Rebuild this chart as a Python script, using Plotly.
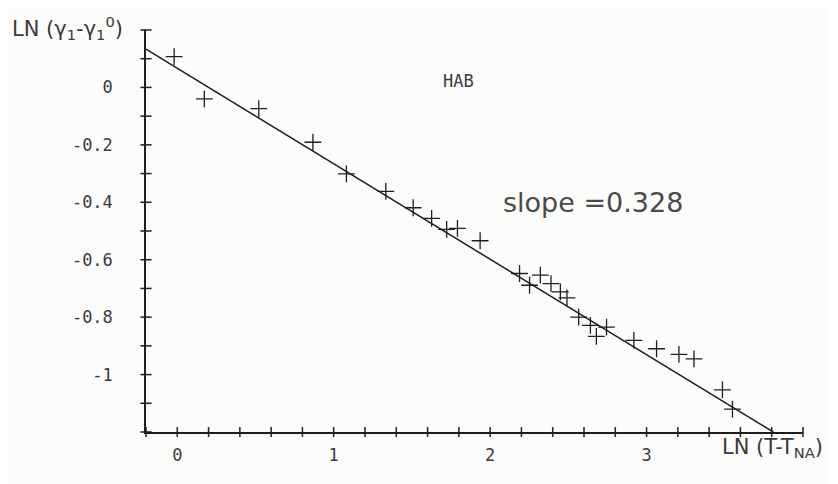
import plotly.graph_objects as go

# Data
ln_dT = [-0.02, 0.173, 0.521, 0.867, 1.081, 1.333, 1.508, 1.626, 1.722, 1.791,
         1.936, 2.188, 2.252, 2.321, 2.389, 2.449, 2.491, 2.566, 2.641, 2.679,
         2.744, 2.919, 3.064, 3.207, 3.303, 3.485, 3.549]
ln_dgamma = [0.107, -0.040, -0.074, -0.191, -0.301, -0.362, -0.419, -0.456, -0.494, -0.491,
             -0.534, -0.648, -0.689, -0.654, -0.683, -0.712, -0.733, -0.800, -0.829, -0.867,
             -0.835, -0.881, -0.910, -0.930, -0.945, -1.053, -1.120]

fit_x = [-0.2, 3.81]
fit_y = [0.133, -1.2]

x_ticks = [-0.2, 0.0, 0.2, 0.4, 0.6, 0.8, 1.0, 1.2, 1.4, 1.6, 1.8, 2.0, 2.2,
           2.4, 2.6, 2.8, 3.0, 3.2, 3.4, 3.6, 3.8, 4.0]
y_ticks = [0.2, 0.1, 0.0, -0.1, -0.2, -0.3, -0.4, -0.5, -0.6, -0.7, -0.8,
           -0.9, -1.0, -1.1, -1.2]
x_labels_vals = [0, 1, 2, 3]
x_labels_text = ["0", "1", "2", "3"]
y_labels_vals = [0, -0.2, -0.4, -0.6, -0.8, -1]
y_labels_text = ["0", "-0.2", "-0.4", "-0.6", "-0.8", "-1"]

X_MIN, X_MAX = -0.2, 4.0
Y_MIN, Y_MAX = -1.2, 0.2

ink = "#1e1e1e"
txt = "#3a3a3a"

fig = go.Figure()

# fitted line
fig.add_trace(go.Scatter(x=fit_x, y=fit_y, mode="lines",
                         line=dict(color=ink, width=1.5), hoverinfo="skip",
                         showlegend=False))
# data points
fig.add_trace(go.Scatter(x=ln_dT, y=ln_dgamma, mode="markers",
                         marker=dict(symbol="cross-thin", size=12,
                                     line=dict(color=ink, width=1.3)),
                         showlegend=False))
# crossing tick marks on the x axis
fig.add_trace(go.Scatter(x=x_ticks, y=[Y_MIN] * len(x_ticks), mode="markers",
                         marker=dict(symbol="line-ns", size=7,
                                     line=dict(color=ink, width=1.5)),
                         cliponaxis=False, hoverinfo="skip", showlegend=False))
# crossing tick marks on the y axis
fig.add_trace(go.Scatter(x=[X_MIN] * len(y_ticks), y=y_ticks, mode="markers",
                         marker=dict(symbol="line-ew", size=8,
                                     line=dict(color=ink, width=1.5)),
                         cliponaxis=False, hoverinfo="skip", showlegend=False))

tick_font = dict(family="DejaVu Sans Mono", size=17, color=txt)

fig.update_xaxes(range=[X_MIN, X_MAX], showgrid=False, zeroline=False,
                 showline=True, linecolor=ink, linewidth=1.5,
                 tickvals=x_labels_vals, ticktext=x_labels_text, ticks="",
                 tickfont=tick_font, ticklabelstandoff=7)
fig.update_yaxes(range=[Y_MIN, Y_MAX], showgrid=False, zeroline=False,
                 showline=True, linecolor=ink, linewidth=1.5,
                 tickvals=y_labels_vals, ticktext=y_labels_text, ticks="",
                 tickfont=tick_font, ticklabelstandoff=28)

fig.add_annotation(x=1.80, y=0.021, xref="x", yref="y", text="HAB",
                   showarrow=False, font=dict(family="DejaVu Sans Mono", size=17, color=txt))
fig.add_annotation(x=2.66, y=-0.402, xref="x", yref="y", text="slope =0.328",
                   showarrow=False, font=dict(family="DejaVu Sans", size=27, color="#4a4a4a"))
fig.add_annotation(x=-0.207, y=1.005, xref="paper", yref="paper", xanchor="left",
                   yanchor="middle",
                   text="LN (γ<sub>1</sub>-γ<sub>1</sub><sup>0</sup>)", showarrow=False,
                   font=dict(family="DejaVu Sans", size=21, color=txt))
fig.add_annotation(x=0.954, y=-0.04, xref="paper", yref="paper",
                   xanchor="center", yanchor="middle",
                   text="LN (T-T<sub>NA</sub>)", showarrow=False,
                   font=dict(family="DejaVu Sans", size=21, color=txt))

fig.update_layout(width=830, height=476,
                  margin=dict(l=138, r=35, t=22, b=52),
                  plot_bgcolor="#fcfcfa", paper_bgcolor="#fcfcfa")

fig.write_html("out.html")
